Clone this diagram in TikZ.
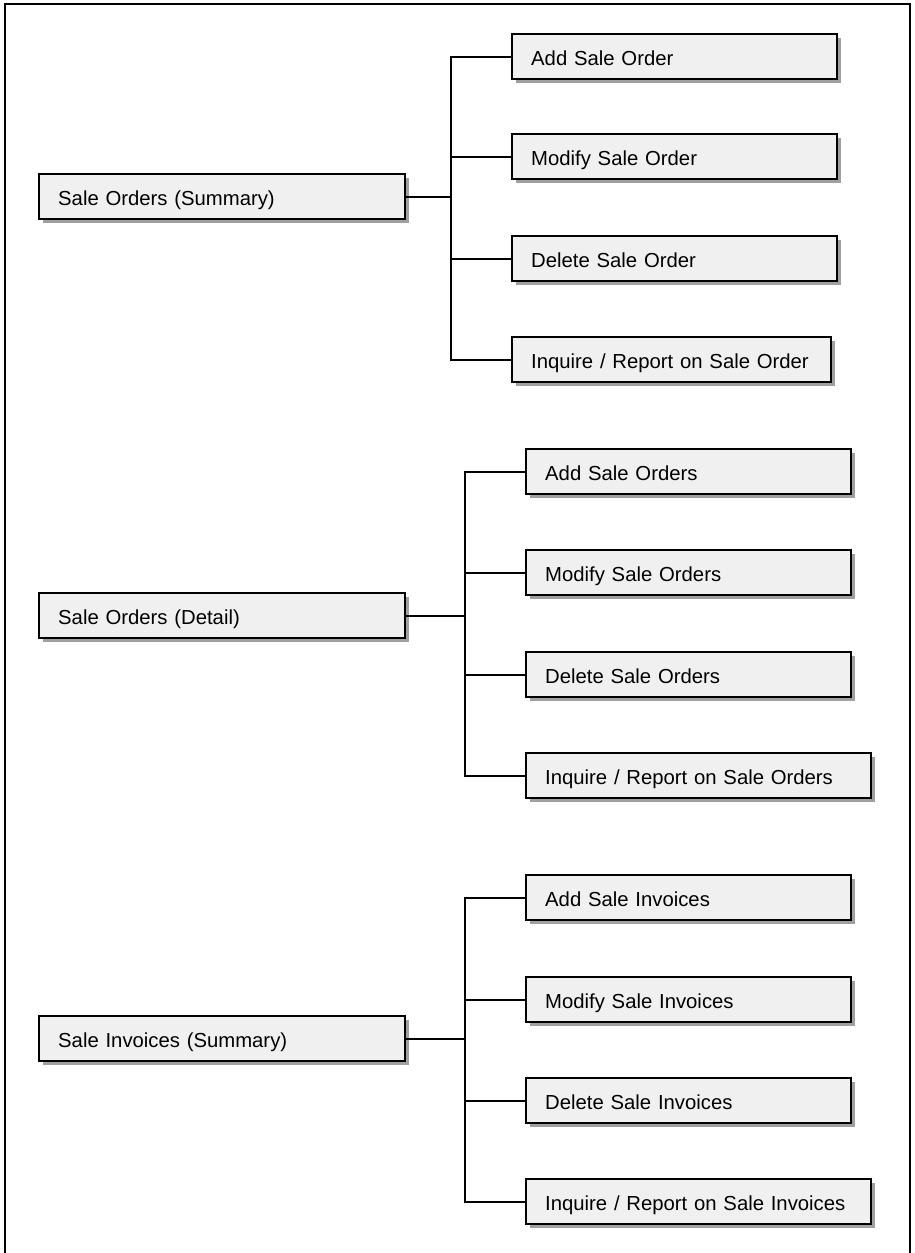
\documentclass[tikz,border=0pt]{standalone}
\usepackage{fontspec}
\setmainfont{Liberation Sans}
\definecolor{boxfill}{RGB}{240,240,240}
\definecolor{boxshade}{RGB}{160,160,160}
\usetikzlibrary{shadows}

\begin{document}
\begin{tikzpicture}[x=1pt,y=-1pt,
  box/.style={draw,line width=2.4pt,fill=boxfill,anchor=north west,
    drop shadow={shadow xshift=4pt,shadow yshift=-4pt,fill=boxshade,opacity=1},
    minimum height=45pt,inner xsep=19pt,inner ysep=0pt,align=left,
    text height=17.5pt,text depth=0pt,font=\fontsize{20.3}{24}\selectfont},
  link/.style={line width=2.4pt,line join=miter}]
  \useasboundingbox (0,0) rectangle (914,1253);
  \draw[line width=2.4pt] (5,1253) -- (5,4) -- (910,4) -- (910,1253);
  % sale orders (summary)
  \node[box,text width=328pt] (s1) at (38,173) {Sale Orders (Summary)};
  \node[box,text width=287pt] (a1) at (511,33) {Add Sale Order};
  \node[box,text width=287pt] (m1) at (511,133) {Modify Sale Order};
  \node[box,text width=287pt] (d1) at (511,235) {Delete Sale Order};
  \node[box,text width=281pt] (i1) at (511,336) {Inquire / Report on Sale Order};
  \coordinate (t1) at (451,0);
  \draw[link] (s1.east) -- (s1.east -| t1);
  \draw[link] (a1.west) -| (t1 |- i1.west) -- (i1.west);
  \draw[link] (m1.west) -- (t1 |- m1.west);
  \draw[link] (d1.west) -- (t1 |- d1.west);
  % sale orders (detail)
  \node[box,text width=328pt] (s2) at (38,592) {Sale Orders (Detail)};
  \node[box,text width=287pt] (a2) at (525,448) {Add Sale Orders};
  \node[box,text width=287pt] (m2) at (525,549) {Modify Sale Orders};
  \node[box,text width=287pt] (d2) at (525,651) {Delete Sale Orders};
  \node[box,text width=307pt] (i2) at (525,752) {Inquire / Report on Sale Orders};
  \coordinate (t2) at (465,0);
  \draw[link] (s2.east) -- (s2.east -| t2);
  \draw[link] (a2.west) -| (t2 |- i2.west) -- (i2.west);
  \draw[link] (m2.west) -- (t2 |- m2.west);
  \draw[link] (d2.west) -- (t2 |- d2.west);
  % sale invoices (summary)
  \node[box,text width=328pt] (s3) at (38,1015) {Sale Invoices (Summary)};
  \node[box,text width=287pt] (a3) at (525,874) {Add Sale Invoices};
  \node[box,text width=287pt] (m3) at (525,976) {Modify Sale Invoices};
  \node[box,text width=287pt] (d3) at (525,1077) {Delete Sale Invoices};
  \node[box,text width=307pt] (i3) at (525,1178) {Inquire / Report on Sale Invoices};
  \coordinate (t3) at (465,0);
  \draw[link] (s3.east) -- (s3.east -| t3);
  \draw[link] (a3.west) -| (t3 |- i3.west) -- (i3.west);
  \draw[link] (m3.west) -- (t3 |- m3.west);
  \draw[link] (d3.west) -- (t3 |- d3.west);
\end{tikzpicture}
\end{document}
